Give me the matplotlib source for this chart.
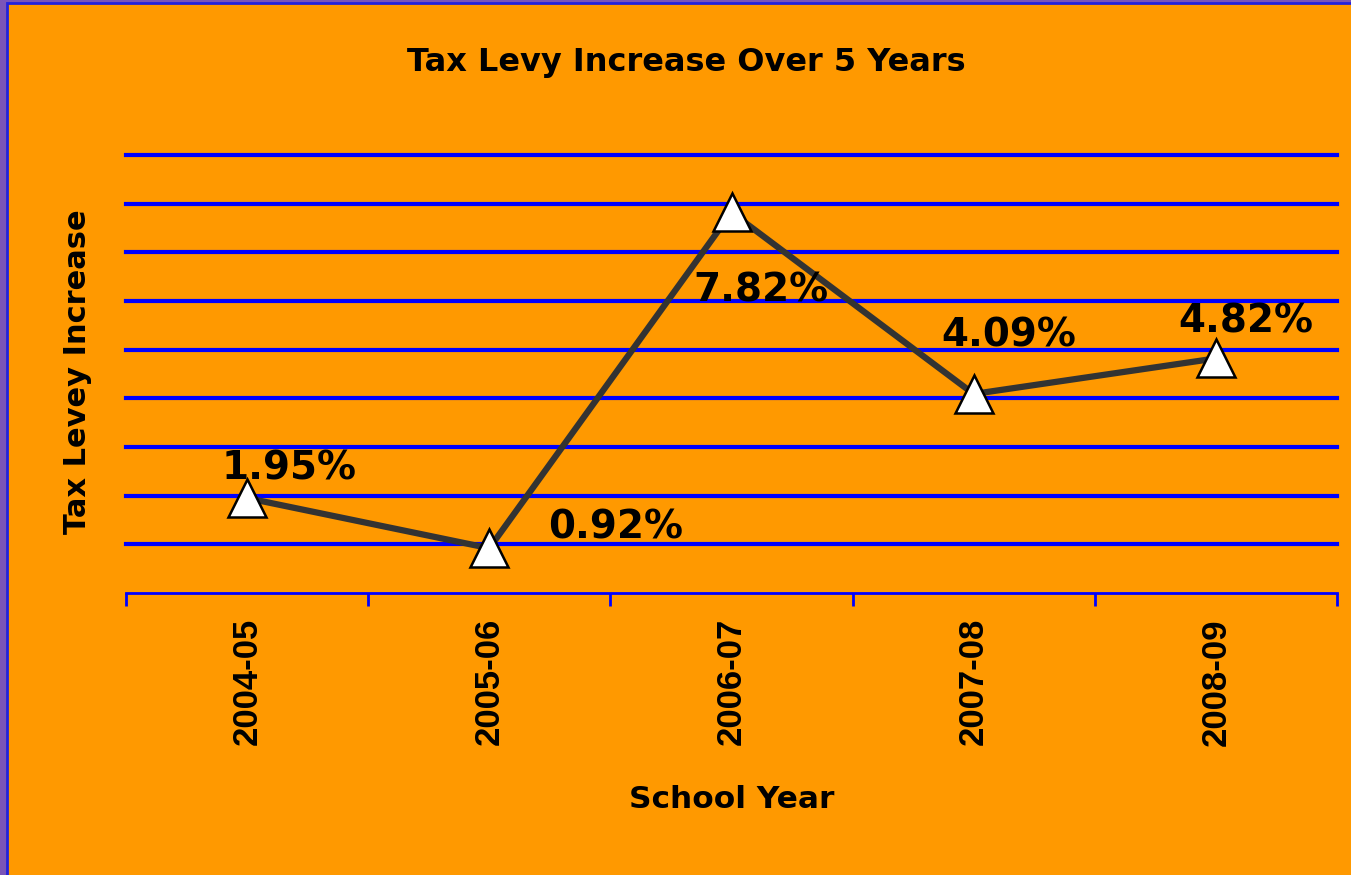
import matplotlib
matplotlib.use("Agg")
import matplotlib.pyplot as plt
from matplotlib.patches import Rectangle

years = ["2004-05", "2005-06", "2006-07", "2007-08", "2008-09"]
values = [1.95, 0.92, 7.82, 4.09, 4.82]
labels = ["1.95%", "0.92%", "7.82%", "4.09%", "4.82%"]
label_offsets = [(42, 30), (126, 21), (29, -78), (35, 58), (30, 37)]

W, H = 1351, 875
fig = plt.figure(figsize=(W / 100, H / 100), dpi=100)
fig.patch.set_facecolor("#7a55b8")
fig.patches.append(Rectangle((7 / W, -0.01), 1.02, 1 - 3 / H + 0.01,
                             transform=fig.transFigure, facecolor="#FF9900",
                             edgecolor="#2222DD", linewidth=2, zorder=-10))

ax = fig.add_axes([126 / W, 1 - 593 / H, (1337 - 126) / W, (593 - 155) / H])
ax.set_zorder(5)
ax.patch.set_visible(False)

x = list(range(len(years)))
ax.set_xlim(-0.5, len(years) - 0.5)
ax.set_ylim(0, 9)

for gy in range(1, 10):
    ax.axhline(gy, color="#0000FF", lw=3, zorder=1, clip_on=False)

ax.plot(x, values, color="#333333", lw=4.5, zorder=3,
        marker="^", markersize=28, markerfacecolor="white",
        markeredgecolor="black", markeredgewidth=1.8)

for xi, v, lab, off in zip(x, values, labels, label_offsets):
    ax.annotate(lab, (xi, v), xytext=off, textcoords="offset pixels",
                ha="center", va="center", fontsize=28, fontweight="bold",
                family="DejaVu Sans", color="black", zorder=4)

for s in ["left", "right", "top"]:
    ax.spines[s].set_visible(False)
ax.spines["bottom"].set_color("#0000FF")
ax.spines["bottom"].set_linewidth(2)

ax.set_xticks([i - 0.5 for i in range(len(years) + 1)])
ax.set_xticklabels([])
ax.set_xticks(x, minor=True)
ax.set_xticklabels(years, minor=True, rotation=90, fontsize=25,
                   fontweight="bold", family="Liberation Sans")
ax.tick_params(axis="x", which="major", direction="out", length=9,
               width=2, color="#0000FF")
ax.tick_params(axis="x", which="minor", length=0, pad=18)
ax.set_yticks([])

fig.text(686 / W, 1 - 62 / H, "Tax Levy Increase Over 5 Years",
         ha="center", va="center", fontsize=23, fontweight="bold",
         family="DejaVu Sans")
fig.text(78 / W, 1 - 372 / H, "Tax Levey Increase", rotation=90,
         ha="center", va="center", fontsize=22, fontweight="bold",
         family="DejaVu Sans")
fig.text(732 / W, 1 - 800 / H, "School Year", ha="center", va="center",
         fontsize=22.5, fontweight="bold", family="DejaVu Sans")

fig.savefig("out.png", dpi=100, facecolor=fig.get_facecolor())
